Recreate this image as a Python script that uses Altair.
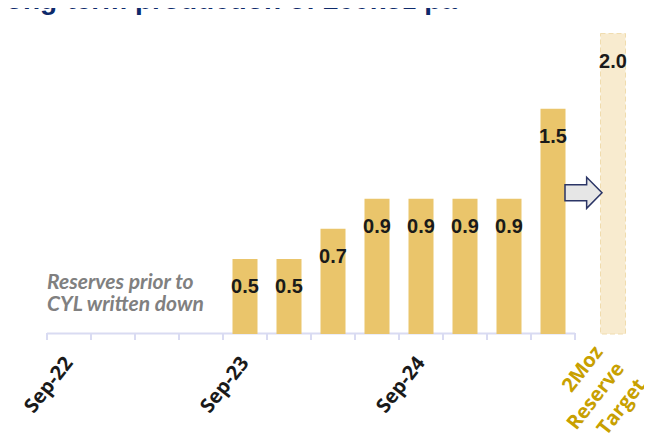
import altair as alt
import pandas as pd

# ---- data ----
quarters = ["Sep-22", "Dec-22", "Mar-23", "Jun-23", "Sep-23", "Dec-23",
            "Mar-24", "Jun-24", "Sep-24", "Dec-24", "Mar-25", "Jun-25"]
reserves = [None, None, None, None, 0.5, 0.5, 0.7, 0.9, 0.9, 0.9, 0.9, 1.5]
target_name = "2Moz Reserve Target"
target_value = 2.0
title_text = "long-term production of 200koz pa"
note_lines = ["Reserves prior to", "CYL written down"]
note_level = 0.34
arrow_level = 0.94

categories = quarters + [target_name]

bars_df = pd.DataFrame({"period": quarters, "reserve": reserves}).dropna()
target_df = pd.DataFrame({"period": [target_name], "reserve": [target_value]})
all_df = pd.DataFrame({"period": categories})
quarter_df = pd.DataFrame({"period": quarters})
note_df = pd.DataFrame({"period": [quarters[0]], "level": [note_level], "text": [note_lines]})
arrow_df = pd.DataFrame({"period": [target_name], "level": [arrow_level]})
title_df = pd.DataFrame({"text": [title_text]})

BAR = "#EAC56B"
PALE = "#F8EBCF"
AXIS = "#D9DBF2"
GOLD = "#C8A000"
INK = "#1A1A1A"

x_scale = alt.Scale(domain=categories, paddingInner=0, paddingOuter=0)
y_scale = alt.Scale(domain=[0, 2.17], nice=False, zero=True)

is_target = f"datum.value === '{target_name}'"
target_lines = "[" + ",".join(f"'{w}'" for w in target_name.split()) + "]"
label_expr = f"{is_target} ? {target_lines} : (indexof(datum.value, 'Sep') === 0 ? datum.value : '')"

x_axis = alt.Axis(
    title=None, domain=False, ticks=False, grid=False, labelAngle=308,
    labelFont="Open Sans", labelFontSize=20, labelFontWeight="bold",
    labelColor={"condition": {"test": is_target, "value": GOLD}, "value": INK},
    labelOffset={"condition": {"test": is_target, "value": 2}, "value": 0},
    labelPadding={"condition": {"test": is_target, "value": 14}, "value": 25},
    labelExpr=label_expr, labelOverlap=False,
    labelLineHeight=27,
)

def xenc(**kw):
    return alt.X("period:N", scale=x_scale, sort=categories, axis=x_axis, **kw)

def yenc(field):
    return alt.Y(field, scale=y_scale, axis=None)

domain_line = alt.Chart(quarter_df).mark_rect(color=AXIS).encode(
    x=xenc(), y=alt.value(324.5), y2=alt.value(326.5)
)
tick_rules = alt.Chart(all_df).mark_rule(color=AXIS, strokeWidth=2).encode(
    x=xenc(bandPosition=0), y=alt.value(325), y2=alt.value(332)
)
target_bar = alt.Chart(target_df).mark_bar(
    color=PALE, width=25, xOffset=16, stroke="#F0DCAE", strokeDash=[5, 3], strokeWidth=1
).encode(x=xenc(), y=yenc("reserve:Q"))
bars = alt.Chart(bars_df).mark_bar(color=BAR, width=25).encode(
    x=xenc(), y=yenc("reserve:Q")
)
text_style = dict(dy=34, baseline="alphabetic", fontSize=20, fontWeight="bold",
                  font="Liberation Sans", color=INK)
values = alt.Chart(bars_df).mark_text(**text_style).encode(
    x=xenc(), y=yenc("reserve:Q"), text=alt.Text("reserve:Q", format=".1f"),
)
target_value_label = alt.Chart(target_df).mark_text(dx=16, **text_style).encode(
    x=xenc(), y=yenc("reserve:Q"), text=alt.Text("reserve:Q", format=".1f"),
)
arrow_path = "M-1,-0.43 L0.17,-0.43 L0.17,-0.84 L1,0 L0.17,0.84 L0.17,0.43 L-1,0.43 Z"
arrow = alt.Chart(arrow_df).mark_point(
    shape=arrow_path, size=1369, filled=True, fill="#E6E6E6", stroke="#2B3566",
    strokeWidth=1.5, opacity=1, xOffset=-13.5,
).encode(x=xenc(), y=yenc("level:Q"))
note = alt.Chart(note_df).mark_text(
    align="left", baseline="middle", font="Lato", fontStyle="italic",
    fontWeight="bold", fontSize=21, color="#808080", lineHeight=22,
).encode(x=xenc(bandPosition=0), y=yenc("level:Q"), text="text")
# slide headline, cut off by the top edge as in the reference
headline = alt.Chart(title_df).mark_text(
    align="left", baseline="alphabetic", font="Liberation Sans", fontSize=28,
    fontWeight="bold", color="#0D2A6B",
).encode(x=alt.value(-49), y=alt.value(1), text="text")

chart = alt.layer(
    domain_line, tick_rules, target_bar, bars, values, target_value_label, arrow, note, headline
).properties(
    width=572, height=326,
    autosize=alt.AutoSizeParams(type="none"),
    padding={"left": 39, "top": 0, "right": 25, "bottom": 104},
).configure_view(stroke=None)

chart.save("out.html", embed_options={"renderer": "svg", "actions": False})
